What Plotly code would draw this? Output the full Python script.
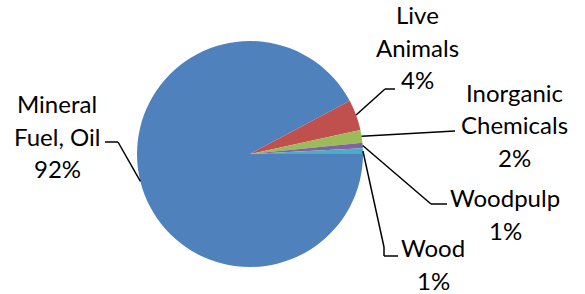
import math
import plotly.graph_objects as go

categories = ["Mineral Fuel, Oil", "Live Animals", "Inorganic Chemicals", "Woodpulp", "Wood"]
label_lines = [["Mineral", "Fuel, Oil"], ["Live", "Animals"], ["Inorganic", "Chemicals"], ["Woodpulp"], ["Wood"]]
values = [92.2, 4.4, 1.8, 0.8, 0.8]
colors = ["#4F81BD", "#C0504D", "#9BBB59", "#8064A2", "#4BACC6"]

W, H = 585, 294
CX, CY, R = 250, 154, 113
LINE_GAP = 32.5

# label block centres (px) and leader-line knee points (px) - layout only
label_pos = [(57, 136), (417, 47), (514, 125), (505, 214), (433, 264)]
leader_pts = [
    [(105, 142), (118, 142)],
    [(395, 89), (385, 89)],
    [(455, 131)],
    [(447, 204), (431, 204)],
    [(398, 256), (384, 256), (384, 247)],
]

def px(x, y):
    return x / W, 1 - y / H

fig = go.Figure(go.Pie(
    labels=categories, values=values, sort=False, direction="clockwise",
    rotation=90, marker=dict(colors=colors, line=dict(width=0)),
    textinfo="none", hoverinfo="label+percent",
    domain=dict(x=[(CX - R) / W, (CX + R) / W], y=[1 - (CY + R) / H, 1 - (CY - R) / H]),
    showlegend=False,
))

total = sum(values)
cum = 0.0
shapes = []
annotations = []
for i, v in enumerate(values):
    pct = round(v / total * 100)
    mid = (cum + v / 2) / total * 2 * math.pi
    cum += v
    ex, ey = CX + R * math.cos(mid), CY + R * math.sin(mid)
    pts = leader_pts[i] + [(ex, ey)]
    for (x0, y0), (x1, y1) in zip(pts[:-1], pts[1:]):
        a0, b0 = px(x0, y0)
        a1, b1 = px(x1, y1)
        shapes.append(dict(type="line", xref="paper", yref="paper", x0=a0, y0=b0, x1=a1, y1=b1,
                           line=dict(color="black", width=1.5)))
    lines = label_lines[i] + [f"{pct}%"]
    n = len(lines)
    cxl, cyl = label_pos[i]
    for k, t in enumerate(lines):
        yy = cyl + (k - (n - 1) / 2) * LINE_GAP
        lx, ly = px(cxl, yy)
        annotations.append(dict(x=lx, y=ly, xref="paper", yref="paper", showarrow=False,
                                text=t, xanchor="center", yanchor="middle",
                                font=dict(family="Lato", size=24, color="black")))

fig.update_layout(width=W, height=H, margin=dict(l=0, r=0, t=0, b=0),
                  paper_bgcolor="white", plot_bgcolor="white",
                  shapes=shapes, annotations=annotations)
fig.write_html("out.html", config={"displayModeBar": False},
               post_script="document.body.style.margin='0';document.body.style.overflow='hidden';")
